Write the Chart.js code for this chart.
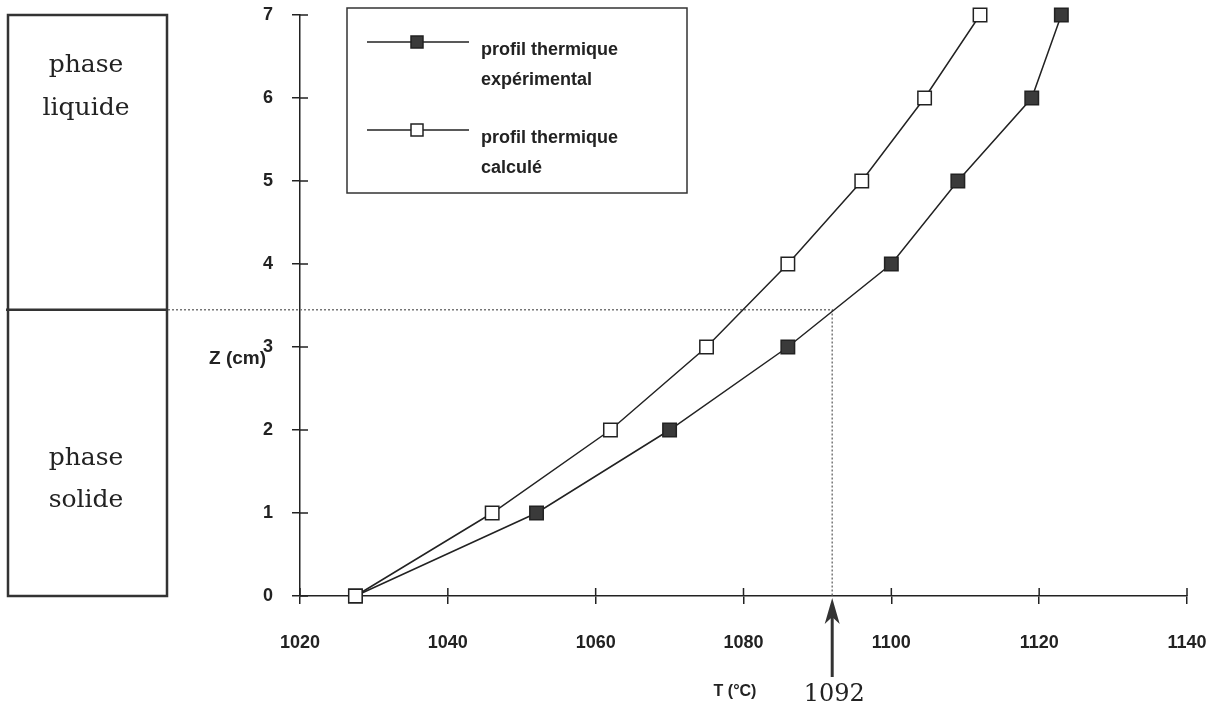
<!DOCTYPE html>
<html>
<head>
<meta charset="utf-8">
<script src="https://cdn.jsdelivr.net/npm/chart.js@4/dist/chart.umd.min.js"></script>
<style>
  html, body { margin: 0; padding: 0; background: #fff; }
  #wrap { width: 1208px; height: 707px; }
</style>
</head>
<body>
<div id="wrap"><canvas id="c" width="1208" height="707"></canvas></div>
<script>
// profondeur Z (cm) et temperatures
var zLevels = [0, 1, 2, 3, 4, 5, 6, 7];
var tempExperimental = [1027.5, 1052, 1070, 1086, 1100, 1109, 1119, 1123];
var tempCalcule = [1027.5, 1046, 1062, 1075, 1086, 1096, 1104.5, 1112];
var legendLabels = [['profil thermique', 'expérimental'], ['profil thermique', 'calculé']];
var phaseLabels = [['phase', 'liquide'], ['phase', 'solide']];
var meltTemp = 1092;
var interfaceZ = 3.45;
var xTitle = 'T (°C)';
var yTitle = 'Z (cm)';

var INK = '#222';
var SANS = '"Liberation Sans", Arial, sans-serif';
var SERIF = '"DejaVu Serif", serif';

function toPoints(temps) {
  var pts = [];
  for (var i = 0; i < temps.length; i++) pts.push({ x: temps[i], y: zLevels[i] });
  return pts;
}

var annotations = {
  id: 'annotations',
  beforeDatasetsDraw: function (chart) {
    var ctx = chart.ctx, xs = chart.scales.x, ys = chart.scales.y;
    var px = xs.getPixelForValue(meltTemp), py = ys.getPixelForValue(interfaceZ);
    ctx.save();
    ctx.strokeStyle = '#777';
    ctx.lineWidth = 1.5;
    ctx.setLineDash([2, 2]);
    ctx.beginPath();
    ctx.moveTo(168, py);
    ctx.lineTo(px, py);
    ctx.lineTo(px, ys.bottom);
    ctx.stroke();
    ctx.restore();
  },
  afterDraw: function (chart) {
    var ctx = chart.ctx, xs = chart.scales.x, ys = chart.scales.y;
    var area = chart.chartArea;
    ctx.save();
    ctx.strokeStyle = INK;
    ctx.lineWidth = 1.5;

    // ticks traversant les axes
    ctx.beginPath();
    ys.ticks.forEach(function (t) {
      var y = ys.getPixelForValue(t.value);
      ctx.moveTo(area.left, y); ctx.lineTo(area.left + 8, y);
    });
    xs.ticks.forEach(function (t) {
      var x = xs.getPixelForValue(t.value);
      ctx.moveTo(x, area.bottom); ctx.lineTo(x, area.bottom - 8);
    });
    ctx.stroke();

    // boite des phases
    var py = ys.getPixelForValue(interfaceZ);
    ctx.lineWidth = 2.5;
    ctx.strokeStyle = '#333';
    ctx.strokeRect(8, area.top, 159, area.bottom - area.top);
    ctx.beginPath();
    ctx.moveTo(6, py); ctx.lineTo(167, py);
    ctx.stroke();

    ctx.fillStyle = '#222';
    ctx.font = '25px ' + SERIF;
    ctx.textAlign = 'center';
    ctx.textBaseline = 'alphabetic';
    ctx.fillText(phaseLabels[0][0], 86, 72);
    ctx.fillText(phaseLabels[0][1], 86, 115);
    ctx.fillText(phaseLabels[1][0], 86, 465);
    ctx.fillText(phaseLabels[1][1], 86, 507);

    // fleche 1092
    var ax = xs.getPixelForValue(meltTemp);
    ctx.strokeStyle = '#333';
    ctx.lineWidth = 3;
    ctx.beginPath();
    ctx.moveTo(ax, 677); ctx.lineTo(ax, 612);
    ctx.stroke();
    ctx.fillStyle = '#333';
    ctx.beginPath();
    ctx.moveTo(ax, area.bottom + 2);
    ctx.lineTo(ax - 7.5, 624);
    ctx.lineTo(ax, 617);
    ctx.lineTo(ax + 7.5, 624);
    ctx.closePath();
    ctx.fill();
    ctx.fillStyle = '#222';
    ctx.font = '24px ' + SERIF;
    ctx.fillText(String(meltTemp), ax + 2, 701);

    // titres des axes
    ctx.font = 'bold 19px ' + SANS;
    ctx.textBaseline = 'middle';
    ctx.textAlign = 'left';
    ctx.fillText(yTitle, 209, 359);
    ctx.font = 'bold 16px ' + SANS;
    ctx.textAlign = 'center';
    ctx.fillText(xTitle, 735, 692);

    // legende
    ctx.strokeStyle = '#333';
    ctx.lineWidth = 1.5;
    ctx.strokeRect(347, 8, 340, 185);
    var rows = [42, 130];
    var sets = [chart.data.datasets[1], chart.data.datasets[0]];
    for (var i = 0; i < rows.length; i++) {
      var ly = rows[i];
      ctx.strokeStyle = INK;
      ctx.lineWidth = 1.5;
      ctx.beginPath();
      ctx.moveTo(367, ly); ctx.lineTo(469, ly);
      ctx.stroke();
      ctx.fillStyle = sets[i].pointBackgroundColor;
      ctx.fillRect(411, ly - 6, 12, 12);
      ctx.strokeRect(411, ly - 6, 12, 12);
      ctx.fillStyle = '#222';
      ctx.font = 'bold 18px ' + SANS;
      ctx.textAlign = 'left';
      ctx.fillText(legendLabels[i][0], 481, ly + 8);
      ctx.fillText(legendLabels[i][1], 481, ly + 38);
    }
    ctx.restore();
  }
};

function noEdgePadding(s) {
  s.paddingLeft = 0; s.paddingRight = 0; s.paddingTop = 0; s.paddingBottom = 0;
}

var chart = new Chart(document.getElementById('c'), {
  type: 'scatter',
  data: {
    datasets: [
      {
        label: legendLabels[1].join(' '),
        data: toPoints(tempCalcule),
        showLine: true,
        clip: false,
        borderColor: INK,
        borderWidth: 1.5,
        pointStyle: 'rect',
        pointRadius: 9.5,
        pointBorderWidth: 1.5,
        pointBorderColor: INK,
        pointBackgroundColor: '#fff'
      },
      {
        label: legendLabels[0].join(' '),
        data: toPoints(tempExperimental),
        showLine: true,
        clip: false,
        borderColor: INK,
        borderWidth: 1.5,
        pointStyle: 'rect',
        pointRadius: 9.5,
        pointBorderWidth: 1.5,
        pointBorderColor: INK,
        pointBackgroundColor: '#3a3a3a'
      }
    ]
  },
  options: {
    responsive: false,
    devicePixelRatio: 1,
    animation: false,
    layout: { padding: { left: 0, top: 15, right: 21, bottom: 0 } },
    plugins: { legend: { display: false }, tooltip: { enabled: false } },
    scales: {
      x: {
        type: 'linear',
        min: 1020,
        max: 1140,
        afterFit: function (s) { s.height = 111; noEdgePadding(s); },
        border: { color: INK, width: 1.5 },
        grid: { drawOnChartArea: false, tickLength: 8, color: INK, lineWidth: 1.5 },
        ticks: {
          stepSize: 20, padding: 28, color: '#222',
          font: { family: SANS, size: 18, weight: 'bold' },
          callback: function (v) { return String(v); }
        }
      },
      y: {
        type: 'linear',
        min: 0,
        max: 7,
        afterFit: function (s) { s.width = 300; noEdgePadding(s); },
        border: { color: INK, width: 1.5 },
        grid: { drawOnChartArea: false, tickLength: 8, color: INK, lineWidth: 1.5 },
        ticks: {
          stepSize: 1, padding: 19, color: '#222',
          font: { family: SANS, size: 18, weight: 'bold' },
          callback: function (v) { return String(v); }
        }
      }
    }
  },
  plugins: [annotations]
});
</script>
</body>
</html>
